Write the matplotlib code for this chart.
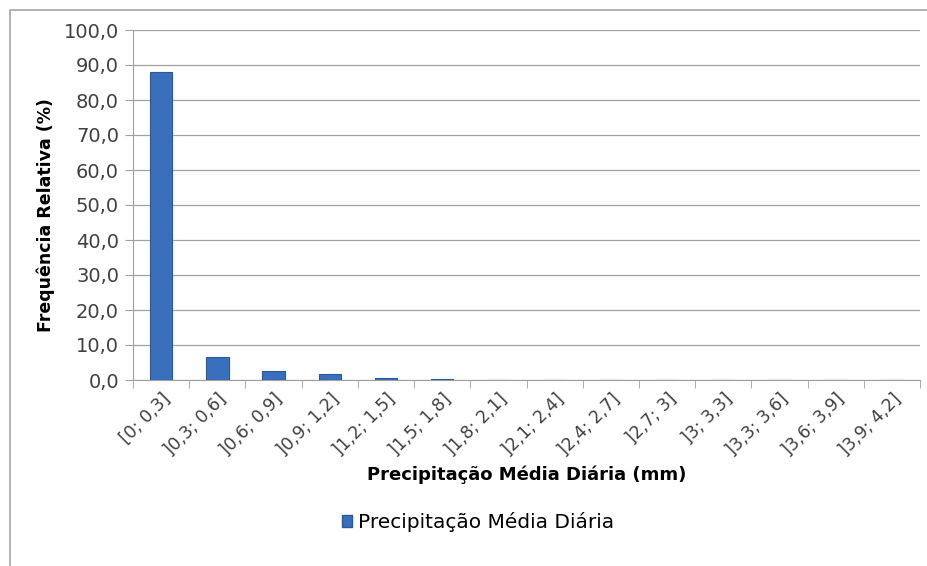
import matplotlib
matplotlib.use("Agg")
import matplotlib.pyplot as plt
import numpy as np
from matplotlib.patches import Rectangle
from matplotlib.ticker import FuncFormatter, MultipleLocator

classes = ['[0; 0,3]', ']0,3; 0,6]', ']0,6; 0,9]', ']0,9; 1,2]', ']1,2; 1,5]',
           ']1,5; 1,8]', ']1,8; 2,1]', ']2,1; 2,4]', ']2,4; 2,7]', ']2,7; 3]',
           ']3; 3,3]', ']3,3; 3,6]', ']3,6; 3,9]', ']3,9; 4,2]']
freq = [88.0, 6.6, 2.5, 1.7, 0.7, 0.3, 0.1, 0.05, 0.0, 0.0, 0.0, 0.0, 0.0, 0.0]

plt.rcParams['font.family'] = ['DejaVu Sans']

fig = plt.figure(figsize=(9.27, 5.66), dpi=100)
fig.patch.set_facecolor('white')

# outer chart frame (cut off at right/bottom)
fig.patches.append(Rectangle((10 / 927, -0.1), 1.2, 1 - 10 / 566 + 0.1,
                             transform=fig.transFigure, fill=False,
                             edgecolor='#a6a6a6', linewidth=1.2))

ax = fig.add_axes([133 / 927, 1 - 380 / 566, (920 - 133) / 927, 350 / 566])
x = np.arange(len(classes))
ax.bar(x, freq, width=0.4, color='#3a6fbd', edgecolor='#2b5899', linewidth=0.8, zorder=3)

ax.set_xlim(-0.5, len(classes) - 0.5)
ax.set_ylim(0, 100)
ax.yaxis.set_major_locator(MultipleLocator(10))
ax.yaxis.set_major_formatter(FuncFormatter(lambda v, p: f'{v:.1f}'.replace('.', ',')))
ax.grid(axis='y', color='#a0a0a0', linewidth=0.9, zorder=0)

ax.set_xticks(x)
ax.set_xticklabels(classes, rotation=45, ha='right', rotation_mode='anchor',
                   fontsize=12.5, color='#404040')
ax.set_xticks(np.arange(-0.5, len(classes)), minor=True)
ax.tick_params(axis='x', which='major', length=0, pad=7)
ax.tick_params(axis='x', which='minor', length=6, color='#a0a0a0', direction='out')
ax.tick_params(axis='y', length=6, color='#a0a0a0', labelsize=14, labelcolor='#404040', pad=4)

for s in ['top', 'right']:
    ax.spines[s].set_visible(False)
ax.spines['left'].set_color('#a0a0a0')
ax.spines['bottom'].set_color('#a0a0a0')

ax.set_ylabel('Frequência Relativa (%)', fontsize=12.5, fontweight='bold')
ax.yaxis.set_label_coords(-0.112 + 10 / 787, 0.47)
ax.set_xlabel('Precipitação Média Diária (mm)', fontsize=13, fontweight='bold')
ax.xaxis.set_label_coords(0.5, -0.245)

ax.legend([Rectangle((0, 0), 1, 1, facecolor='#3a6fbd', edgecolor='#2b5899')],
          ['Precipitação Média Diária'], loc='center', bbox_to_anchor=(478 / 927, 1 - 522 / 566),
          bbox_transform=fig.transFigure, frameon=False, fontsize=14.5,
          handlelength=0.5, handleheight=0.5, handletextpad=0.3)

fig.savefig('out.png', dpi=100)
